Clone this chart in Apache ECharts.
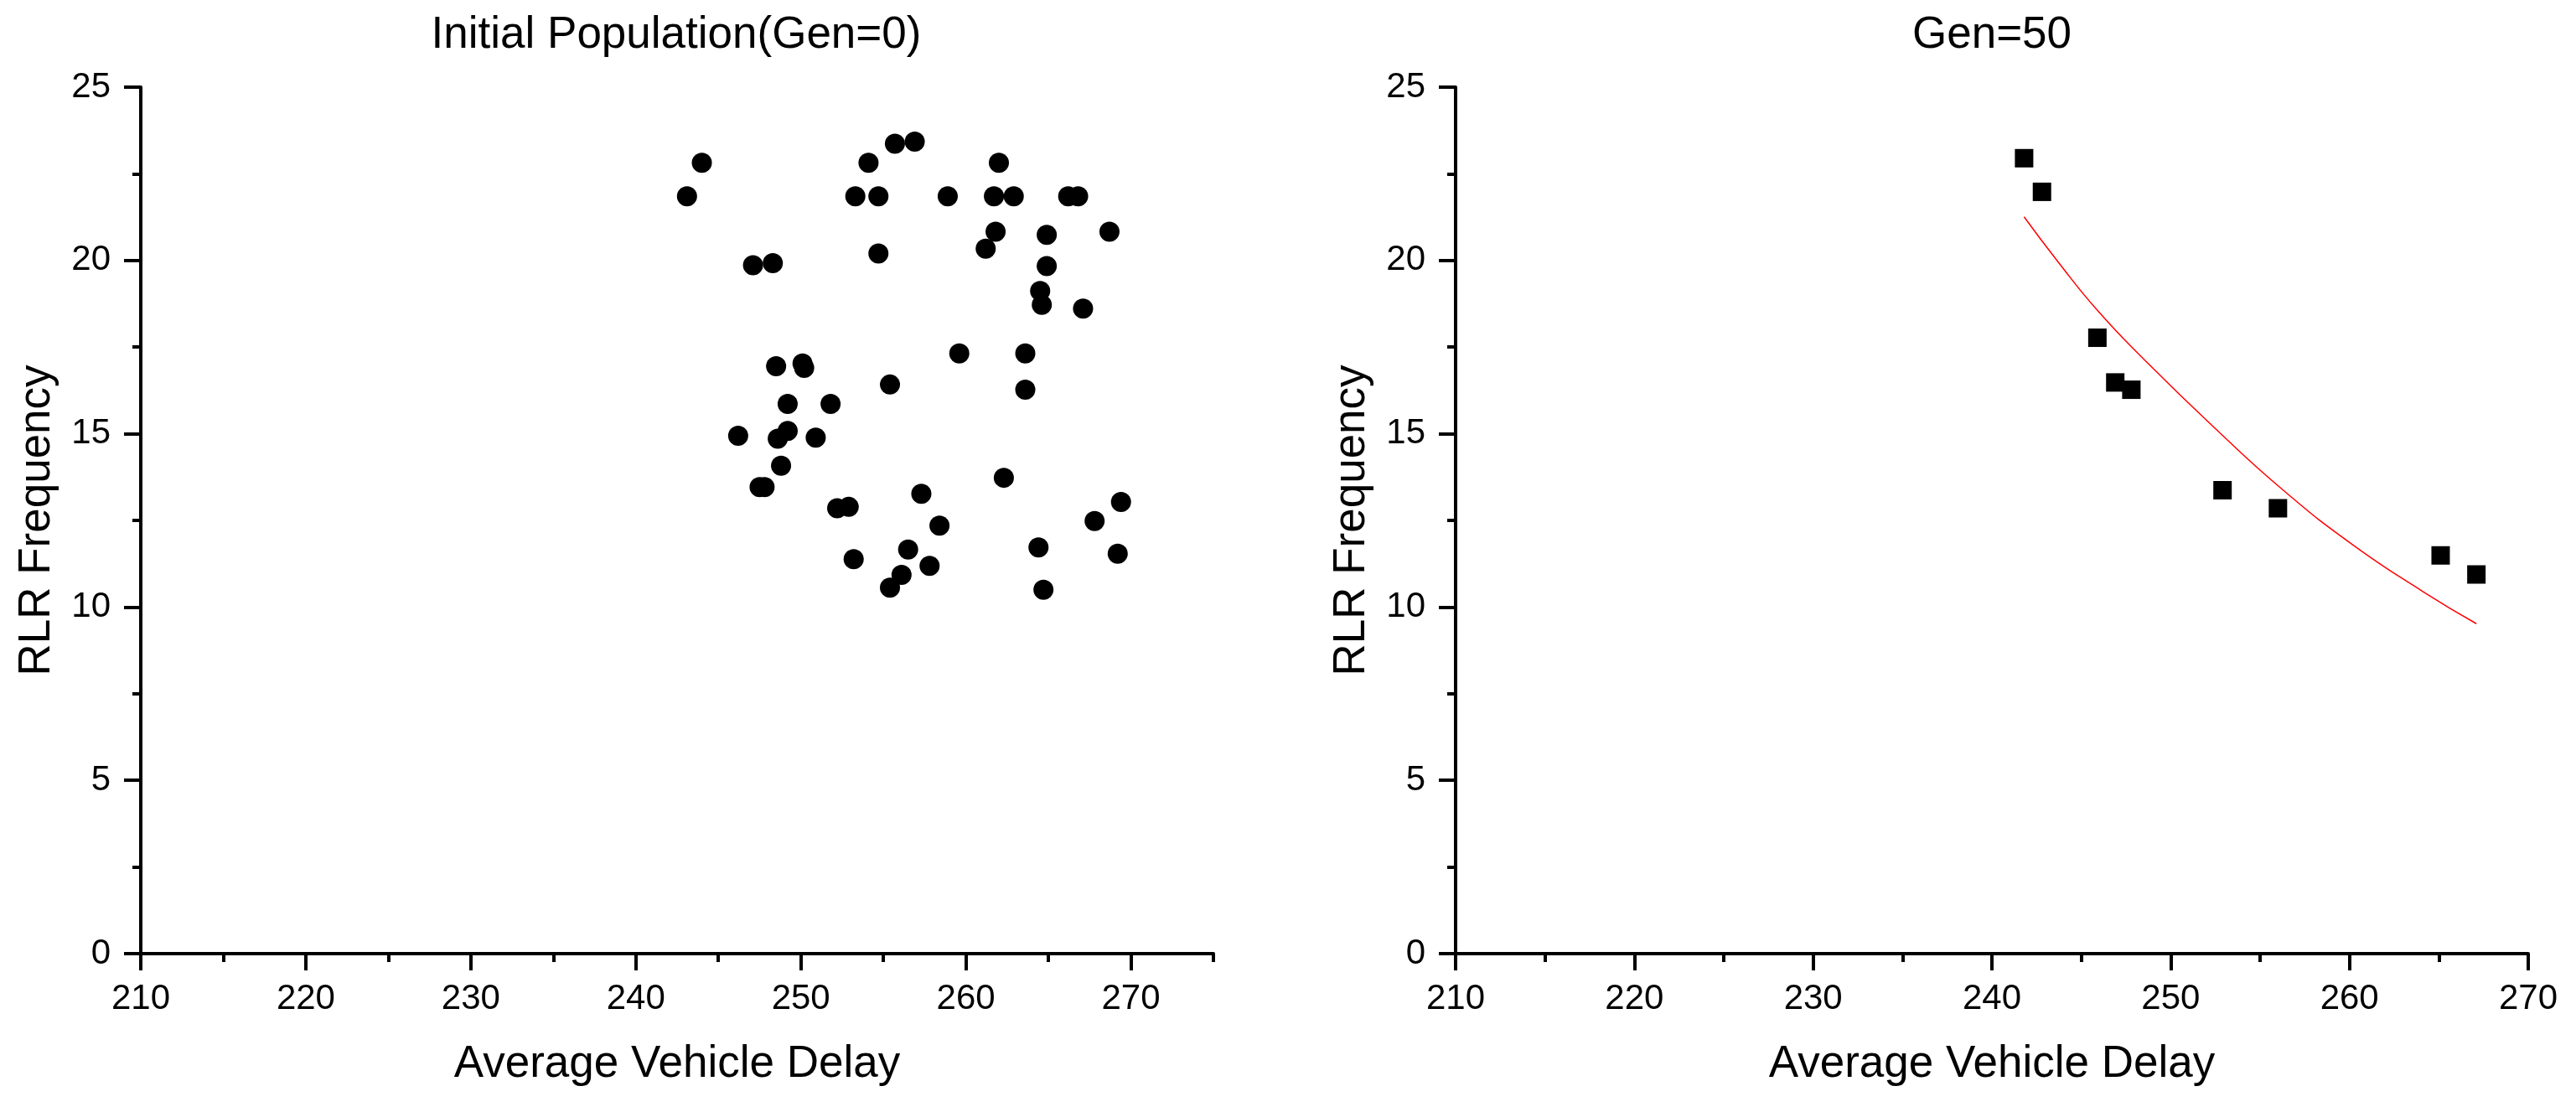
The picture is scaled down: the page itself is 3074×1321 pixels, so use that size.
<!DOCTYPE html>
<html>
<head>
  <meta charset="utf-8">
  <title>RLR Frequency vs Average Vehicle Delay</title>
  <script src="https://cdn.jsdelivr.net/npm/echarts@6/dist/echarts.min.js"></script>
  <style>
    html, body {
      margin: 0;
      padding: 0;
      background: #fff;
    }
  </style>
</head>
<body>
  <div id="main" style="width: 3074px;height:1321px;"></div>
  <script>
    // initial population (Gen=0)
    var delayGen0 = [244.0, 243.1, 247.1, 248.3, 254.1, 253.3, 254.7, 254.7, 255.7, 256.9,
      258.9, 262.0, 261.7, 262.9, 261.8, 261.2, 264.9, 266.2, 266.8, 268.7,
      264.9, 264.5, 264.6, 267.1, 259.6, 263.6, 263.6, 255.4, 248.5, 250.1,
      250.2, 249.2, 251.8, 246.2, 248.6, 249.2, 250.9, 248.8, 247.5, 247.8,
      262.3, 257.3, 252.2, 252.9, 258.4, 267.8, 269.4, 264.4, 269.2, 256.5,
      253.2, 257.8, 256.1, 255.4, 264.7];
    var freqGen0 = [22.82, 21.85, 19.86, 19.92, 22.82, 21.85, 21.85, 20.20, 23.37, 23.43,
      21.85, 22.82, 21.85, 21.85, 20.83, 20.34, 20.74, 21.85, 21.85, 20.83,
      19.84, 19.12, 18.72, 18.61, 17.32, 17.32, 16.27, 16.42, 16.95, 17.03,
      16.90, 15.86, 15.86, 14.94, 14.86, 15.08, 14.89, 14.08, 13.46, 13.46,
      13.73, 13.27, 12.85, 12.89, 12.35, 12.48, 13.03, 11.72, 11.54, 11.66,
      11.38, 11.19, 10.93, 10.56, 10.50];

    // Gen=50
    var delayGen50 = [241.8, 242.8, 245.9, 246.9, 247.8, 252.9, 256.0, 265.1, 267.1];
    var freqGen50 = [22.95, 21.98, 17.77, 16.48, 16.27, 13.37, 12.85, 11.49, 10.94];

    // red fitted curve
    var fitDelay = [241.8, 243.7, 245.9, 248.5, 252.6, 256.3, 260.2, 264.1, 267.1];
    var fitFreq = [21.26, 19.96, 18.56, 17.15, 15.10, 13.37, 11.79, 10.45, 9.52];

    var xMajor = [210, 220, 230, 240, 250, 260, 270];
    var xMinorLeft = [215, 225, 235, 245, 255, 265, 275];
    var xMinorRight = [215, 225, 235, 245, 255, 265];

    function pairs(xs, ys) {
      var out = [];
      for (var i = 0; i < xs.length; i++) out.push([xs[i], ys[i]]);
      return out;
    }

    var font = 'Liberation Sans, Arial, sans-serif';
    var black = '#000';

    function mainX(grid, max) {
      return {
        type: 'value', gridIndex: grid, position: 'bottom',
        min: 210, max: max, interval: 10,
        name: 'Average Vehicle Delay', nameLocation: 'middle', nameGap: 106,
        nameTextStyle: { fontFamily: font, fontSize: 53, color: black },
        axisLine: { show: true, lineStyle: { color: black, width: 4 } },
        axisTick: { show: true, length: 20, customValues: xMajor, lineStyle: { color: black, width: 4 } },
        axisLabel: { customValues: xMajor, margin: 33, fontFamily: font, fontSize: 42, color: black },
        splitLine: { show: false }
      };
    }

    // second axis on the same grid, only for the short ticks
    function minorX(grid, max, vals) {
      return {
        type: 'value', gridIndex: grid, position: 'bottom',
        min: 210, max: max, interval: 10,
        axisLine: { show: false },
        axisTick: { show: true, length: 10, customValues: vals, lineStyle: { color: black, width: 4 } },
        axisLabel: { show: false },
        splitLine: { show: false }
      };
    }

    function mainY(grid) {
      return {
        type: 'value', gridIndex: grid,
        min: 0, max: 25, interval: 5,
        name: 'RLR Frequency', nameLocation: 'middle', nameGap: 97,
        nameTextStyle: { fontFamily: font, fontSize: 53, color: black },
        axisLine: { show: true, lineStyle: { color: black, width: 4 } },
        axisTick: { show: true, length: 20, lineStyle: { color: black, width: 4 } },
        minorTick: { show: true, splitNumber: 2, length: 10, lineStyle: { color: black, width: 4 } },
        axisLabel: { margin: 36, fontFamily: font, fontSize: 42, color: black },
        splitLine: { show: false }
      };
    }

    var chart = echarts.init(document.getElementById('main'));
    var option = {
      backgroundColor: '#fff',
      animation: false,
      title: [
        { text: 'Initial Population(Gen=0)', left: 807, top: 16, padding: 0, textAlign: 'center',
          textStyle: { fontFamily: font, fontSize: 53, fontWeight: 'normal', color: black } },
        { text: 'Gen=50', left: 2377, top: 16, padding: 0, textAlign: 'center',
          textStyle: { fontFamily: font, fontSize: 53, fontWeight: 'normal', color: black } }
      ],
      grid: [
        { left: 168, top: 104, width: 1280, height: 1034 },
        { left: 1737, top: 104, width: 1280, height: 1034 }
      ],
      xAxis: [
        mainX(0, 275),
        minorX(0, 275, xMinorLeft),
        mainX(1, 270),
        minorX(1, 270, xMinorRight)
      ],
      yAxis: [mainY(0), mainY(1)],
      series: [
        {
          type: 'scatter', xAxisIndex: 0, yAxisIndex: 0,
          symbol: 'circle', symbolSize: 24,
          itemStyle: { color: black, opacity: 1 },
          data: pairs(delayGen0, freqGen0)
        },
        {
          type: 'scatter', xAxisIndex: 2, yAxisIndex: 1,
          symbol: 'rect', symbolSize: 22,
          itemStyle: { color: black, opacity: 1 },
          data: pairs(delayGen50, freqGen50)
        },
        {
          type: 'line', xAxisIndex: 2, yAxisIndex: 1,
          smooth: true, showSymbol: false, symbol: 'none',
          lineStyle: { color: '#ff0000', width: 1.5 },
          data: pairs(fitDelay, fitFreq)
        }
      ]
    };
    chart.setOption(option);
  </script>
</body>
</html>
